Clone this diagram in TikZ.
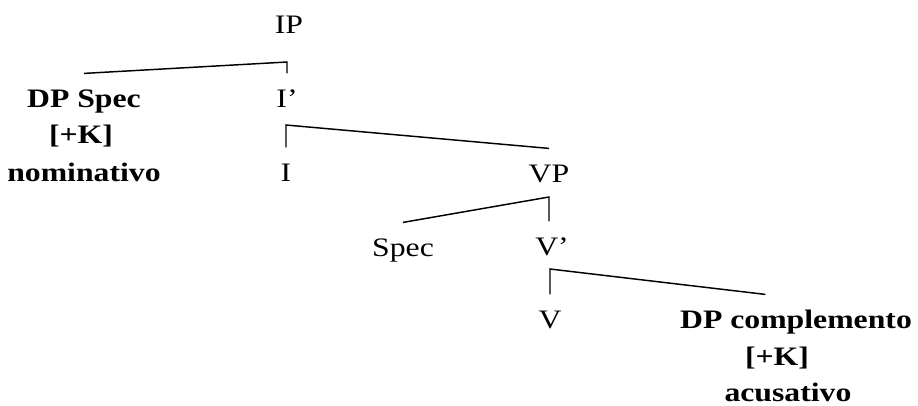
\documentclass[tikz,border=0pt]{standalone}
\usepackage{fontspec}
\setmainfont{Liberation Serif}[FakeStretch=1.19]
\usepackage{tikz}

\begin{document}
\begin{tikzpicture}[x=0.75pt, y=-0.75pt,
    nodo/.style={anchor=base, inner xsep=0pt, inner ysep=11pt,
        text height=14pt, text depth=2pt, font=\fontsize{20}{24}\selectfont},
    tratto/.style={nodo, font=\fontsize{20}{24}\selectfont\bfseries},
    ramo/.style={line width=1.1pt}]
        \useasboundingbox (0,0) rectangle (918,405);
        % nodi
        \node[nodo] (ip) at (289,33) {IP};
        \node[tratto] (dpspec) at (84,107) {DP Spec};
        \node[tratto] (kuno) at (81,143) {[+K]};
        \node[tratto] (nom) at (84,181) {nominativo};
        \node[nodo] (ibar) at (287,107) {I’};
        \node[nodo] (i) at (286,181) {I};
        \node[nodo] (vp) at (549,182) {VP};
        \node[nodo] (spec) at (403,256) {Spec};
        \node[nodo] (vbar) at (552,255) {V’};
        \node[nodo] (v) at (550,328) {V};
        \node[tratto] (dpcompl) at (796,328) {DP complemento};
        \node[tratto] (kdue) at (777,365) {[+K]};
        \node[tratto] (acus) at (788,401) {acusativo};
        % angoli dei rami
        \coordinate (ipk) at (287,62);
        \coordinate (ibark) at (287,125);
        \coordinate (vpk) at (549,197);
        \coordinate (vbark) at (549,269);
        % rami
        \draw[ramo] (dpspec.north) -- (ibar.north |- ipk) -- (ibar.north);
        \draw[ramo] (vp.north) -- (i.north |- ibark) -- (i.north);
        \draw[ramo] (spec.north) -- (vp.north |- vpk) -- (vp.north |- vbar.north);
        \draw[ramo] ([xshift=-23pt]dpcompl.north) -- (v.north |- vbark) -- (v.north);
    \end{tikzpicture}
\end{document}
